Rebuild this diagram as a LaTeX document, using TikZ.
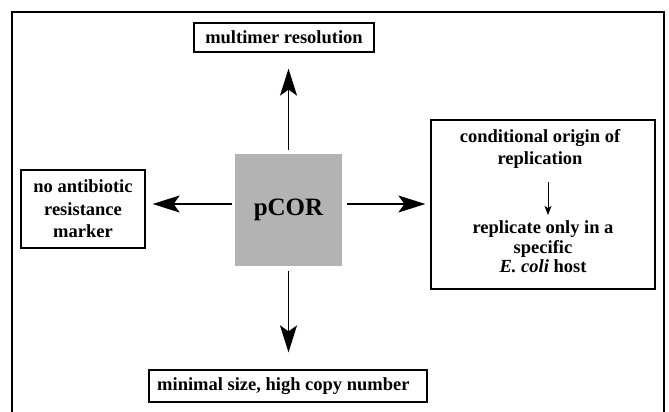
\documentclass[tikz,border=0pt]{standalone}
\usepackage{fontspec}
\setmainfont{Liberation Serif}
\usetikzlibrary{arrows.meta}
\definecolor{boxgray}{RGB}{179,179,179}
\begin{document}
\begin{tikzpicture}[x=1pt,y=-1pt,
  txt/.style={font=\fontsize{18.5}{21}\selectfont\bfseries, align=center, inner sep=0pt},
  frame/.style={draw, line width=1.3pt},
  bigarrow/.style={line width=1.3pt, -{Stealth[length=27pt,width=17pt,inset=6pt]}},
  smallarrow/.style={line width=1pt, -{Stealth[length=9pt,width=7pt,inset=2pt]}}]
\useasboundingbox (0,0) rectangle (669,412);
\draw[line width=1.6pt] (12,420) -- (12,12) -- (664,12) -- (664,420);
% centre
\node[fill=boxgray, minimum width=107pt, minimum height=112pt, inner sep=0pt,
      font=\fontsize{25}{27}\selectfont\bfseries] (pcor) at (288.5,210) {pCOR};
% boxes
\node[txt, frame, minimum width=180pt, minimum height=29pt] (multi) at (284,37.5) {multimer resolution};
\node[txt, frame, minimum width=124pt, minimum height=78pt,
      font=\fontsize{18.5}{22.5}\selectfont\bfseries] (nores) at (83,209) {no antibiotic\\resistance\\marker};
\node[frame, minimum width=278pt, minimum height=32pt, inner sep=0pt] (size) at (288,386) {};
\node[txt, anchor=west] (sizetext) at (157,386) {minimal size, high copy number};
\node[frame, minimum width=224pt, minimum height=169pt, inner sep=0pt] (cond) at (543,204.5) {};
\node[txt, font=\fontsize{18.5}{22}\selectfont\bfseries] (condtop) at (540,149) {conditional origin of\\replication};
\node[txt, font=\fontsize{18.5}{19.5}\selectfont\bfseries] (condbot) at (543,247) {replicate only in a\\specific\\\textit{E. coli} host};
\coordinate (sa) at (548,182);
\coordinate (sb) at (548,215);
\draw[smallarrow] (sa) -- (sb);
% arrows
\draw[bigarrow, shorten <=4pt, shorten >=16pt] (pcor.north) -- (pcor.north |- multi.south);
\draw[bigarrow, shorten <=5pt, shorten >=17pt] (pcor.south) -- (pcor.south |- size.north);
\draw[bigarrow, shorten <=3pt, shorten >=7pt] ([yshift=6pt]pcor.west) -- ([yshift=6pt]pcor.west -| nores.east);
\draw[bigarrow, shorten <=5pt, shorten >=5pt] ([yshift=6pt]pcor.east) -- ([yshift=6pt]pcor.east -| cond.west);
\end{tikzpicture}
\end{document}
